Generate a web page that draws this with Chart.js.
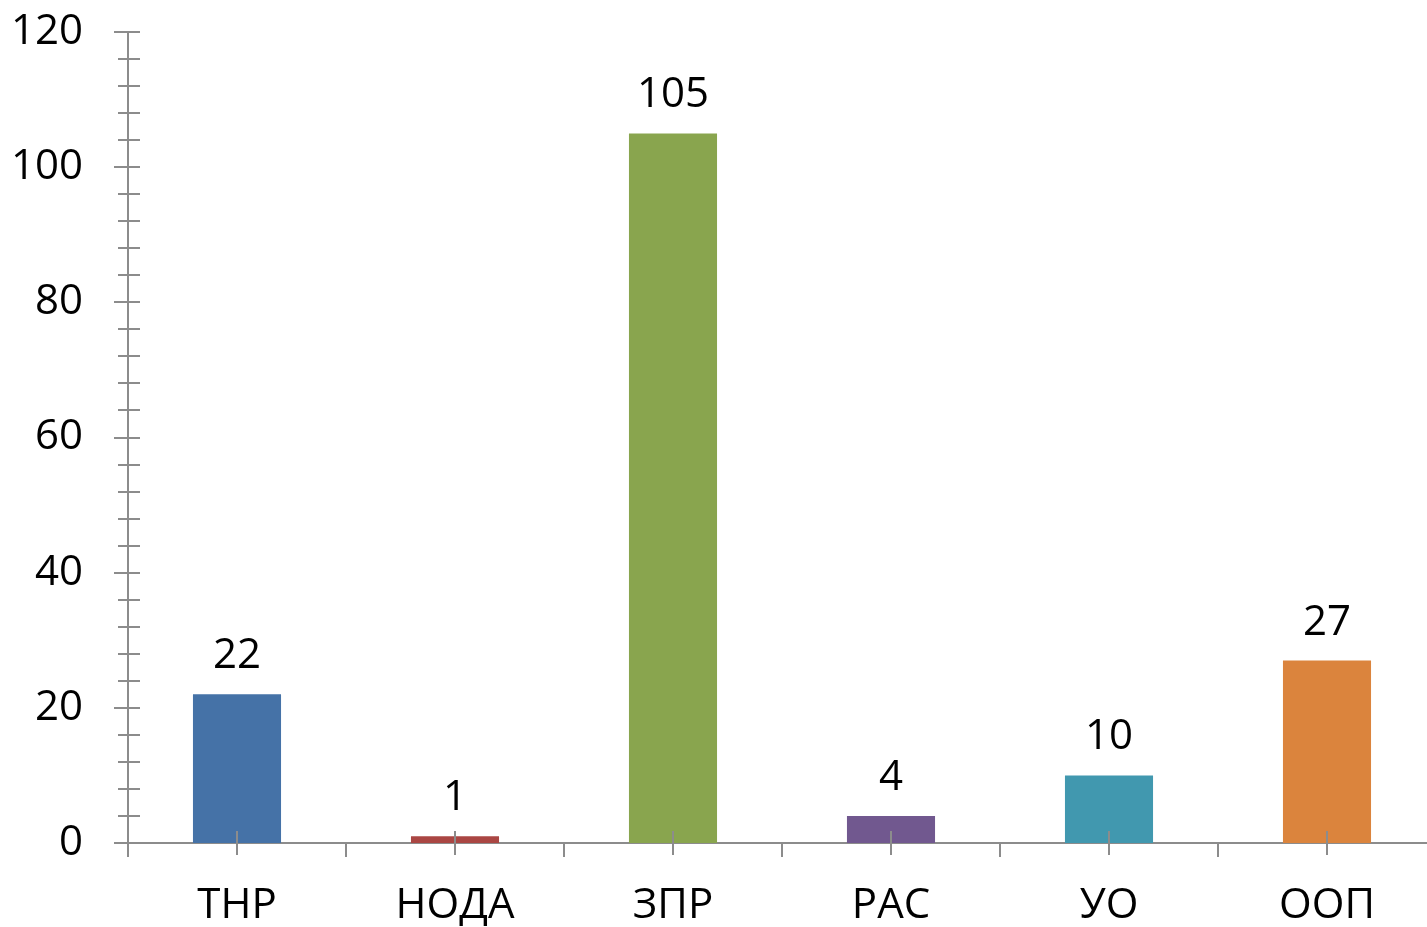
<!DOCTYPE html>
<html>
<head>
<meta charset="utf-8">
<script src="https://cdn.jsdelivr.net/npm/chart.js@4.4.0/dist/chart.umd.min.js"></script>
<style>
  html, body { margin: 0; padding: 0; background: #fff; overflow: hidden; }
  canvas { display: block; }
</style>
</head>
<body>
<canvas id="grafico" width="1440" height="927"></canvas>
<script>
// datos
const categorias = ['ТНР', 'НОДА', 'ЗПР', 'РАС', 'УО', 'ООП'];
const valores = [22, 1, 105, 4, 10, 27];
const yMin = 0;
const yMax = 120;
const pasoMayor = 20;
const pasoMenor = 4;

const colores = ['#4572A7', '#AA4643', '#89A54E', '#71588F', '#4198AF', '#DB843D'];
const colorEje = '#8c8c8c';
const fuente = { family: "'Open Sans', sans-serif", size: 42 };

// marcas de los ejes y etiquetas de valores
const marcasPlugin = {
    id: 'marcas',
    afterDatasetsDraw(chart) {
        const ctx = chart.ctx;
        const x = chart.scales.x;
        const y = chart.scales.y;
        const area = chart.chartArea;
        ctx.save();
        ctx.strokeStyle = colorEje;
        ctx.lineWidth = 2;
        ctx.beginPath();
        y.ticks.forEach(function (t) {
            const py = Math.round(y.getPixelForValue(t.value));
            const mayor = t.value % pasoMayor === 0;
            ctx.moveTo(area.left - (mayor ? 14 : 10), py);
            ctx.lineTo(area.left + 12, py);
        });
        const anchoCat = x.width / categorias.length;
        for (let i = 0; i < categorias.length; i++) {
            const cx = Math.round(x.getPixelForValue(i));
            ctx.moveTo(cx, area.bottom - 12);
            ctx.lineTo(cx, area.bottom + 12);
            const bx = Math.round(x.getPixelForValue(i) - anchoCat / 2);
            ctx.moveTo(bx, area.bottom);
            ctx.lineTo(bx, area.bottom + 14);
        }
        ctx.stroke();

        ctx.fillStyle = '#000';
        ctx.font = fuente.size + 'px ' + fuente.family;
        ctx.textAlign = 'center';
        ctx.textBaseline = 'alphabetic';
        const meta = chart.getDatasetMeta(0);
        meta.data.forEach(function (barra, i) {
            ctx.fillText(String(valores[i]), barra.x, barra.y - 26);
        });
        ctx.restore();
    }
};

const ctx = document.getElementById('grafico').getContext('2d');
new Chart(ctx, {
    type: 'bar',
    data: {
        labels: categorias,
        datasets: [{
            data: valores,
            backgroundColor: colores,
            borderWidth: 0,
            barPercentage: 0.404,
            categoryPercentage: 1
        }]
    },
    options: {
        responsive: false,
        animation: false,
        layout: { padding: { top: 32, right: 4, left: 0, bottom: 0 } },
        plugins: {
            legend: { display: false },
            tooltip: { enabled: false }
        },
        scales: {
            x: {
                offset: true,
                grid: { display: false, drawTicks: false },
                border: { display: true, color: colorEje, width: 2 },
                ticks: { color: '#000', font: fuente, padding: 38 },
                afterFit: function (scale) {
                    scale.height = 84;
                    scale.paddingLeft = 0;
                    scale.paddingRight = 0;
                }
            },
            y: {
                min: yMin,
                max: yMax,
                grid: { display: false, drawTicks: false },
                border: { display: true, color: colorEje, width: 2 },
                afterBuildTicks: function (scale) {
                    const t = [];
                    for (let v = yMin; v <= yMax; v += pasoMenor) t.push({ value: v });
                    scale.ticks = t;
                },
                ticks: {
                    color: '#000',
                    font: fuente,
                    padding: 45,
                    autoSkip: false,
                    callback: function (v) { return v % pasoMayor === 0 ? v : ''; }
                },
                afterFit: function (scale) {
                    scale.width = 128;
                    scale.paddingTop = 0;
                    scale.paddingBottom = 0;
                }
            }
        }
    },
    plugins: [marcasPlugin]
});
</script>
</body>
</html>
